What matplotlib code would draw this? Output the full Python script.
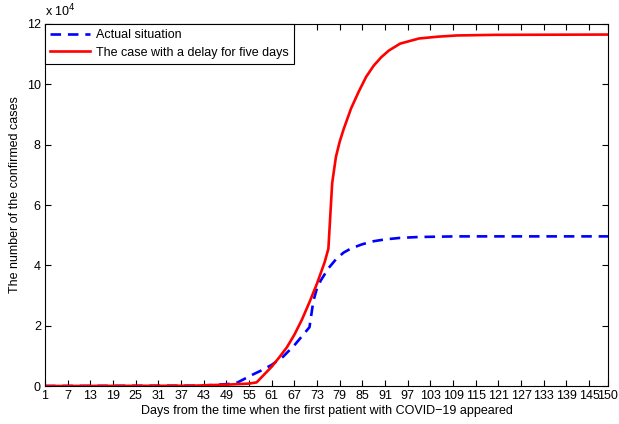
import numpy as np
import matplotlib
matplotlib.use('Agg')
import matplotlib.pyplot as plt

plt.rcParams['font.family'] = ['Liberation Sans', 'DejaVu Sans']

# actual situation (values in units of 1e4)
actual_days = [1, 40, 45, 50, 52, 54, 56, 58, 61, 64, 67, 70, 71, 72, 73, 74, 76, 78, 80,
               82, 85, 88, 91, 95, 100, 110, 120, 150]
actual_vals = [0, 0.01, 0.03, 0.07, 0.12, 0.25, 0.38, 0.5, 0.7, 0.97, 1.35, 1.8, 1.95, 2.8,
               3.25, 3.5, 3.9, 4.2, 4.42, 4.56, 4.7, 4.8, 4.86, 4.91, 4.94, 4.96, 4.96, 4.96]

# delayed case (values in units of 1e4)
delay_days = [1, 40, 50, 55, 57, 59, 61, 63, 65, 67, 69, 71, 73, 75, 76, 77, 78, 79, 80,
              82, 84, 86, 88, 90, 92, 95, 100, 105, 110, 120, 150]
delay_vals = [0, 0.01, 0.05, 0.08, 0.12, 0.38, 0.64, 0.95, 1.28, 1.7, 2.2, 2.78, 3.4, 4.1,
              4.55, 6.72, 7.6, 8.1, 8.5, 9.2, 9.75, 10.25, 10.62, 10.9, 11.12, 11.35, 11.52,
              11.58, 11.62, 11.64, 11.65]

xticks = list(range(1, 150, 6)) + [150]
yticks = [0, 2, 4, 6, 8, 10, 12]

fig = plt.figure(figsize=(6.19, 4.24), dpi=100)
ax = fig.add_axes([0.0727, 0.0896, 0.9095, 0.8538])

ax.plot(actual_days, np.array(actual_vals), color='#0000ff', lw=1.9,
        dashes=(4, 2.6), label='Actual situation')
ax.plot(delay_days, np.array(delay_vals), color='#ff0000', lw=1.9,
        label='The case with a delay for five days')

ax.set_xlim(1, 150)
ax.set_ylim(0, 12)
ax.set_xticks(xticks)
ax.set_yticks(yticks)
ax.tick_params(direction='in', length=4, width=0.8, labelsize=9, top=True, right=True,
               pad=3)
ax.tick_params(axis='x', labeltop=False)
for s in ax.spines.values():
    s.set_linewidth(0.8)

ax.text(0.0, 1.012, r'x 10$^4$', transform=ax.transAxes, fontsize=9, va='bottom')

ax.set_xlabel('Days from the time when the first patient with COVID\u221219 appeared',
              fontsize=9, labelpad=2)
ax.set_ylabel('The number of the confirmed cases', fontsize=9)
ax.yaxis.set_label_coords(-0.043, 0.53)

leg = ax.legend(loc='upper left', borderaxespad=0, fontsize=9, fancybox=False,
                framealpha=1, edgecolor='black', handlelength=3.2, borderpad=0.4,
                labelspacing=0.45, handletextpad=0.5)
leg.get_frame().set_linewidth(0.8)

fig.savefig('out.png', dpi=100)
